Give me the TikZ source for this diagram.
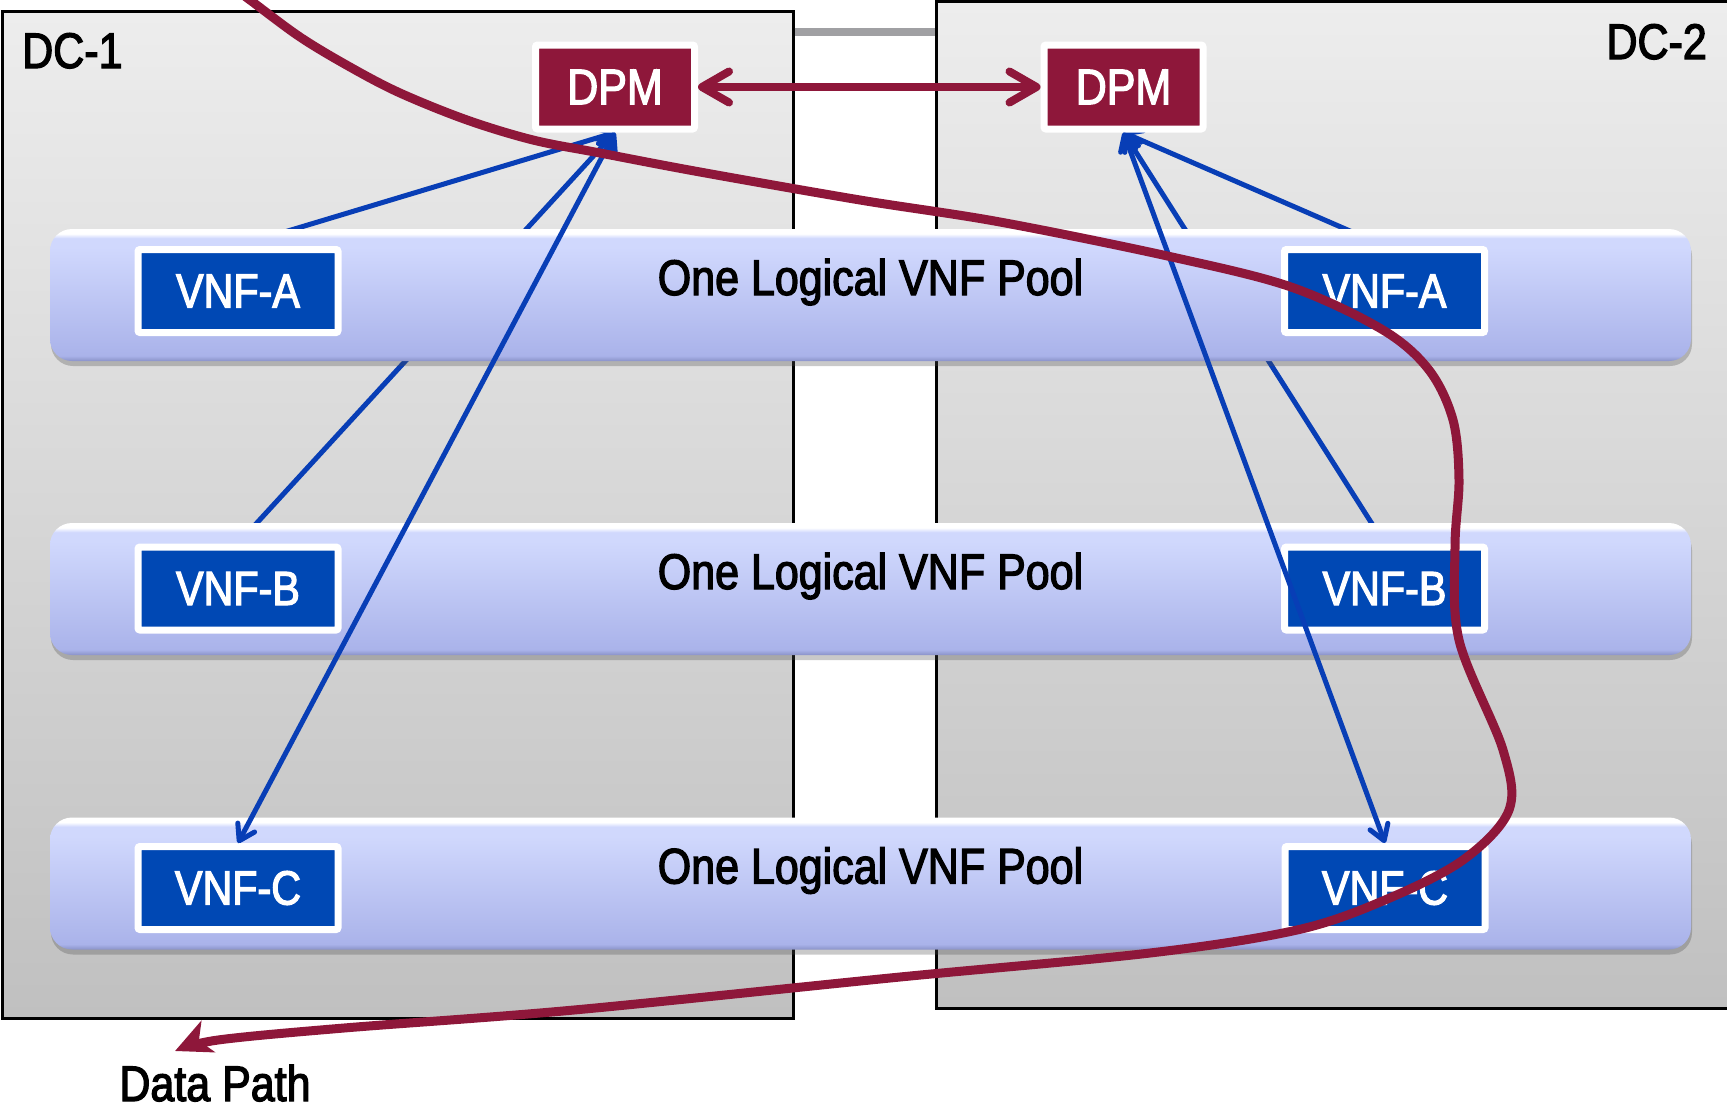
\documentclass[tikz,border=0pt]{standalone}
\usepackage{fontspec}
\setmainfont{Liberation Sans}[FakeStretch=0.86,FakeBold=2.5]
\usetikzlibrary{arrows.meta,shadows}

\definecolor{dpmred}{RGB}{142,23,58}
\definecolor{vnfblue}{RGB}{0,72,180}
\definecolor{linkblue}{RGB}{8,62,182}
\definecolor{dctop}{RGB}{237,237,237}
\definecolor{dcbot}{RGB}{192,192,192}
\definecolor{pooltop}{RGB}{208,216,253}
\definecolor{poolbot}{RGB}{170,179,234}
\definecolor{pooledge}{RGB}{138,146,200}
\definecolor{bargray}{RGB}{160,160,163}

\pgfdeclareverticalshading{poolshade}{100bp}{%
  color(0bp)=(pooledge); color(25bp)=(pooledge); color(27bp)=(poolbot);
  color(68bp)=(pooltop); color(71.5bp)=(pooltop); color(73.2bp)=(white);
  color(75bp)=(white); color(100bp)=(white)}

\pgfdeclarelayer{dcs}
\pgfdeclarelayer{links}
\pgfsetlayers{dcs,links,main}

\tikzset{
  dcbox/.style={draw=black, line width=3pt, top color=dctop, bottom color=dcbot, inner sep=0pt},
  biglabel/.style={font=\fontsize{50}{50}\selectfont, text=black, inner sep=0pt},
  linkbar/.style={draw=bargray, line width=8pt},
  pool/.style={shade, shading=poolshade, rounded corners=22pt, minimum width=1641pt,
    minimum height=132pt, inner sep=0pt,
    drop shadow={shadow xshift=1pt, shadow yshift=-5pt, opacity=0.3, fill=black!70}},
  pooltext/.style={font=\fontsize{50}{50}\selectfont, text=black, inner sep=0pt, anchor=base},
  vnf/.style={fill=vnfblue, draw=white, line width=7pt, rounded corners=2pt, text=white,
    font=\fontsize{48}{48}\selectfont, minimum width=200pt, minimum height=83pt, inner sep=0pt,
    drop shadow={shadow xshift=1.5pt, shadow yshift=-2.5pt, opacity=0.35, fill=black!70}},
  dpm/.style={fill=dpmred, draw=white, line width=7pt, rounded corners=2pt, text=white,
    font=\fontsize{50}{50}\selectfont, minimum width=159pt, minimum height=84pt, inner sep=0pt,
    drop shadow={shadow xshift=1.5pt, shadow yshift=-2.5pt, opacity=0.35, fill=black!70}},
  ctrl/.style={draw=linkblue, line width=5pt, -{Straight Barb[length=15pt,width=19pt,round]}},
  ctrlboth/.style={draw=linkblue, line width=5pt,
    {Straight Barb[length=15pt,width=19pt,round]}-{Straight Barb[length=15pt,width=19pt,round]}},
  dpmlink/.style={draw=dpmred, line width=8pt,
    {Straight Barb[length=27pt,width=31pt,round]}-{Straight Barb[length=27pt,width=31pt,round]}},
  datapath/.style={draw=dpmred, line width=9pt, line join=round,
    -{Stealth[length=36pt,width=34pt,inset=10pt]}}
}

\begin{document}
\begin{tikzpicture}[x=1pt,y=-1pt]
\useasboundingbox (0,0) rectangle (1727,1112);

% data centres and the link between them
\begin{pgfonlayer}{dcs}
  \node[dcbox, minimum width=791pt, minimum height=1007pt] (dc1) at (397.5,514.5) {};
  \node[dcbox, minimum width=804pt, minimum height=1007pt] (dc2) at (1338,504.5) {};
  \coordinate (barL) at ([yshift=-22pt]dc1.north east);
  \draw[linkbar] (barL) -- (barL -| dc2.west);
\end{pgfonlayer}

% logical pools spanning both data centres
\node[pool] (poolA) at (870.5,295) {};
\node[pool] (poolB) at (870.5,589) {};
\node[pool] (poolC) at (870.5,883.5) {};
\node[pooltext] (poolAtxt) at (poolA.center) {One Logical VNF Pool};
\node[pooltext] (poolBtxt) at (poolB.center) {One Logical VNF Pool};
\node[pooltext] (poolCtxt) at (poolC.center) {One Logical VNF Pool};

% VNF instances
\node[vnf] (vnfAL) at (238,291) {VNF-A};
\node[vnf] (vnfBL) at (238,588.5) {VNF-B};
\node[vnf] (vnfCL) at (238,888) {VNF-C};
\node[vnf] (vnfAR) at (1384.5,291) {VNF-A};
\node[vnf] (vnfBR) at (1384.5,588.5) {VNF-B};
\node[vnf] (vnfCR) at (1385,888) {VNF-C};

% data path managers
\node[dpm] (dpmL) at (615,87) {DPM};
\node[dpm] (dpmR) at (1123.5,87) {DPM};

% control links hidden behind the pools
\begin{pgfonlayer}{links}
  \draw[ctrl] (vnfAL.north) -- (dpmL.south);
  \draw[ctrl] (vnfBL.north) -- (dpmL.south);
  \draw[ctrl] (vnfAR.north) -- (dpmR.south);
  \draw[ctrl] (vnfBR.north) -- (dpmR.south);
\end{pgfonlayer}

% control links drawn in front
\draw[ctrlboth] (dpmL.south) -- (vnfCL.north);
\draw[ctrlboth] (dpmR.south) -- (vnfCR.north);

% DPM to DPM
\draw[dpmlink] (dpmL.east) -- (dpmR.west);

% labels
\node[biglabel, anchor=base west] (dc1lbl) at (22,68) {DC-1};
\node[biglabel, anchor=base east] (dc2lbl) at (1707,59) {DC-2};
\node[biglabel, anchor=base] (dplbl) at (215,1101) {Data Path};

% the data path
\coordinate (dpStart) at (227,-17);
\coordinate (dpEnd) at (175,1051);
\draw[datapath] plot[smooth, tension=0.55] coordinates {
  (dpStart) (250,0) (300,37) (350,67) (400,93) (467,120) (533,140) (600,153)
  (700,172) (860,200) (1000,222) (1172,257) (1291,287) (1383,330) (1429,370)
  (1453,420) (1459,480) (1455,547) (1459,640) (1503,750) (1509,810) (1463,860)
  (1385,900) (1297,930) (1150,953) (900,977) (574,1010) (344,1028) (218,1040)
  (dpEnd)};
\end{tikzpicture}
\end{document}
